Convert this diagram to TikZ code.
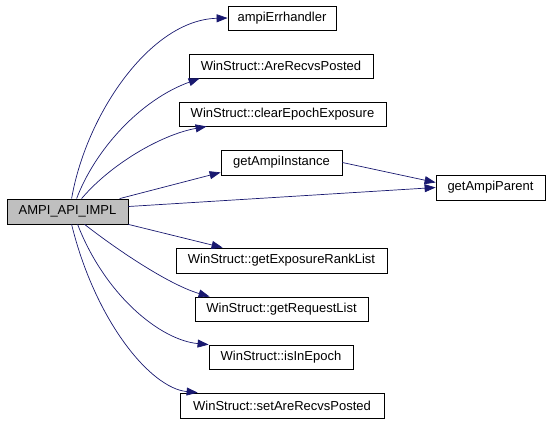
\documentclass[tikz,border=0pt]{standalone}
\usepackage{fontspec}
\setmainfont{Liberation Sans}
\usetikzlibrary{arrows.meta}
\definecolor{edgeblue}{HTML}{191970}
\definecolor{mainfill}{HTML}{BFBFBF}
\tikzset{
  box/.style={draw=black, line width=0.8pt, rectangle, inner sep=0pt, minimum height=25pt, font=\fontsize{13}{15}\selectfont, fill=white},
  call/.style={draw=edgeblue, line width=0.7pt, -{Triangle[length=11pt,width=8pt]}, color=edgeblue}
}
\begin{document}
\begin{tikzpicture}[x=1pt,y=-1pt]
\useasboundingbox (0,0) rectangle (549,421);
\node[box, fill=mainfill, minimum width=121pt] (main) at (67.5,211.5) {AMPI\_API\_IMPL};
\node[box, minimum width=108pt, minimum height=24pt] (err) at (282,18) {ampiErrhandler};
\node[box, minimum width=184pt, minimum height=24pt] (are) at (281,66) {WinStruct::AreRecvsPosted};
\node[box, minimum width=207pt, minimum height=24pt] (clear) at (282.5,114) {WinStruct::clearEpochExposure};
\node[box, minimum width=121pt] (inst) at (281.5,162.5) {getAmpiInstance};
\node[box, minimum width=109pt] (parent) at (490.5,187.5) {getAmpiParent};
\node[box, minimum width=211pt] (expo) at (281.5,260.5) {WinStruct::getExposureRankList};
\node[box, minimum width=173pt, minimum height=24pt] (req) at (281.5,309) {WinStruct::getRequestList};
\node[box, minimum width=144pt, minimum height=24pt] (epoch) at (281,357) {WinStruct::isInEpoch};
\node[box, minimum width=204pt] (set) at (282,405.5) {WinStruct::setAreRecvsPosted};

\draw[call] ([xshift=65pt]main.north west) .. controls (86,115) and (150,20) .. (err.west);
\draw[call] ([xshift=70pt]main.north west) .. controls (95,150) and (140,100) .. ([xshift=11pt]are.south west);
\draw[call] ([xshift=75pt]main.north west) .. controls (110,165) and (160,135) .. ([xshift=28pt]clear.south west);
\draw[call] ([xshift=113pt]main.north west) -- ([yshift=3pt]inst.south west);
\draw[call] ([yshift=5pt]main.east) -- (parent.west);
\draw[call] (inst.east) -- ([yshift=5pt]parent.west);
\draw[call] (main.south east) -- ([xshift=47pt]expo.north west);
\draw[call] ([xshift=78pt]main.south west) .. controls (120,252) and (170,285) .. ([xshift=15pt]req.north west);
\draw[call] ([xshift=71pt]main.south west) .. controls (105,295) and (160,340) .. ([xshift=0pt]epoch.north west);
\draw[call] ([xshift=65pt]main.south west) .. controls (95,320) and (150,388) .. ([xshift=18pt]set.north west);
\end{tikzpicture}
\end{document}
